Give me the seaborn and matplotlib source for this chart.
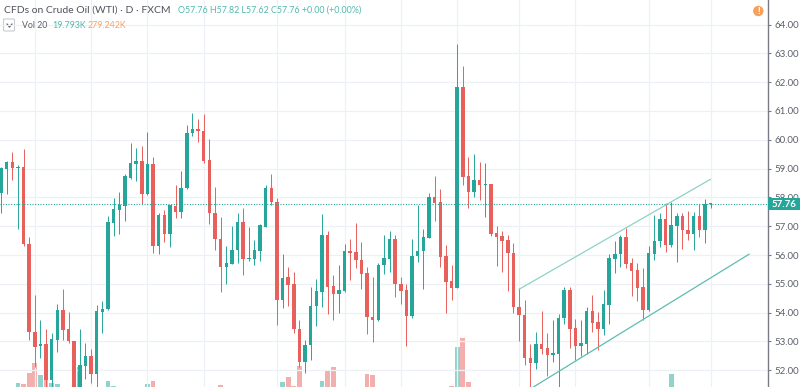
### IMPORTS
import pandas as pd
import seaborn as sns
import matplotlib
matplotlib.use("Agg")
import matplotlib.pyplot as plt
from matplotlib.patches import Rectangle, FancyBboxPatch, Circle

### DATA (daily candles)
opens = [58.16,59.00,59.23,59.02,59.05,56.39,53.34,52.83,52.90,51.66,
         53.06,54.08,53.42,53.03,51.20,52.16,52.49,51.87,54.03,54.11,
         57.12,57.56,57.71,58.69,59.16,59.27,58.13,59.16,56.31,57.38,
         56.74,57.70,57.49,58.31,60.23,60.38,60.32,59.30,57.47,56.57,
         55.59,55.70,56.16,57.14,55.85,55.86,56.15,56.98,58.32,57.85,
         54.44,55.22,54.98,53.43,52.27,52.87,54.23,54.71,56.69,54.91,
         54.64,54.75,56.14,56.10,55.82,55.36,53.86,53.74,55.65,55.86,
         56.57,54.99,54.77,53.88,55.95,56.13,56.59,58.01,57.83,55.96,
         55.09,54.86,61.83,58.73,58.18,58.60,58.43,58.47,56.75,56.65,
         56.52,56.06,54.21,53.93,52.43,52.26,52.91,52.76,52.54,52.58,
         53.81,54.78,53.45,52.85,52.91,54.06,53.66,53.42,54.27,55.87,
         56.03,56.62,55.71,55.48,54.89,54.08,56.05,56.48,57.24,56.35,
         57.01,57.36,56.88,56.73,57.34,56.86,57.76]
highs = [59.05,59.25,59.56,59.11,59.67,56.61,54.61,53.76,53.42,53.28,
         54.30,54.81,54.02,53.03,53.42,52.95,52.72,54.27,54.40,57.35,
         57.97,58.20,58.81,59.88,59.70,59.77,60.26,59.41,57.45,57.56,
         57.74,58.44,58.91,60.50,60.92,60.71,60.89,60.03,58.35,57.31,
         56.33,57.02,57.45,57.62,56.98,56.52,57.07,58.44,58.80,57.97,
         56.02,55.59,55.40,53.76,53.05,54.90,55.16,57.42,56.83,55.30,
         55.65,56.38,56.57,57.10,56.45,55.59,55.23,55.71,56.70,56.84,
         56.70,55.22,55.01,56.56,57.72,56.92,58.14,58.74,58.28,56.34,
         55.66,63.32,62.56,59.41,59.49,59.23,59.20,58.47,57.02,56.82,
         56.70,56.40,54.84,54.43,52.91,53.34,54.05,53.28,53.74,53.95,
         54.90,54.90,53.79,53.74,54.18,54.60,54.03,54.79,56.04,56.47,
         56.70,56.93,55.89,55.71,55.54,56.32,57.39,57.47,57.82,57.84,
         57.45,57.45,57.53,57.50,57.76,57.95,57.82]
lows = [57.47,58.12,58.60,56.89,56.32,53.05,52.12,52.41,51.40,51.40,
        52.64,53.05,52.93,51.00,51.00,51.68,51.54,51.40,53.28,54.09,
        56.66,56.73,57.19,58.63,58.58,57.76,58.08,56.08,56.03,56.45,
        56.29,57.28,57.28,58.30,60.14,59.93,59.18,57.07,56.19,54.71,
        54.99,55.69,55.71,55.32,55.80,55.66,55.80,56.96,57.75,53.58,
        54.15,54.23,53.28,52.12,51.91,52.35,53.53,54.20,53.95,53.74,
        54.00,54.73,55.13,55.54,54.83,53.24,52.97,53.70,55.34,55.41,
        54.55,54.30,52.84,53.83,55.74,54.82,56.58,57.19,55.59,54.00,
        54.43,54.84,58.43,57.64,58.00,57.91,57.33,56.67,55.62,55.42,
        54.75,53.97,53.02,52.17,51.40,52.04,52.58,51.81,52.29,51.40,
        53.62,52.76,52.35,52.49,52.58,53.34,52.70,53.23,53.61,55.39,
        55.58,55.54,54.58,54.42,53.75,54.06,55.81,56.29,56.12,56.27,
        55.74,56.22,56.52,56.18,56.62,56.43,57.62]
closes = [59.01,59.23,59.02,59.07,56.38,53.34,52.82,52.90,51.66,53.08,
          54.08,53.39,53.01,51.20,52.17,52.49,51.87,54.05,54.12,57.13,
          57.58,57.75,58.74,59.18,59.27,58.13,59.16,56.31,57.39,56.74,
          57.72,57.49,58.32,60.25,60.38,60.30,59.27,57.45,56.55,55.59,
          55.71,56.18,57.14,55.86,55.88,56.16,57.03,58.32,57.84,54.44,
          55.21,54.96,53.42,52.27,52.88,54.24,54.74,56.69,54.89,54.64,
          54.77,56.14,56.07,55.81,55.34,53.85,53.74,55.67,55.88,56.57,
          54.98,54.75,53.88,55.96,56.14,56.62,58.01,57.80,55.94,55.07,
          54.86,61.83,58.72,58.18,58.60,58.43,58.45,56.74,56.63,56.50,
          56.06,54.20,53.93,52.42,52.26,52.91,52.75,52.54,52.60,53.83,
          54.78,53.44,52.84,52.94,54.06,53.65,53.42,54.29,55.89,56.04,
          56.63,55.69,55.46,54.86,54.08,56.07,56.50,57.24,56.35,57.05,
          57.36,56.87,56.73,57.34,56.86,57.76,57.76]

# volume in thousands, most of the bars are cut off by the bottom of the chart
volumes = [100,100,100,170,160,270,370,250,250,170,
           160,100,100,100,330,100,100,100,100,190,
           140,100,100,100,100,100,160,190,100,100,
           100,100,100,100,100,100,100,100,100,150,
           100,100,100,100,100,100,100,100,100,100,
           180,230,140,340,100,100,100,190,290,330,
           100,100,100,100,100,260,250,100,100,100,
           100,100,100,100,100,100,100,100,100,100,
           140,530,620,180,100,100,100,100,100,100,
           100,100,100,100,100,100,100,100,100,100,
           100,100,100,100,100,100,100,100,100,100,
           100,100,100,100,100,100,100,100,100,260,
           100,100,100,100,100,100,100]

price_ticks = [52,53,54,55,56,57,58,59,60,61,62,63,64]
date_grid = [6,16,26,36,49,61,71,81,92,102,115,126]
last_price = 57.76

upper_x = [92,126]
upper_y = [54.81,58.63]
lower_x = [92,132.86]
lower_y = [51.11,56.03]

### COLOURS
UP = "#26a69a"
DOWN = "#e8605c"
GRID = "#edf1f6"
TEXT = "#5d606b"

### FIGURE
sns.set_style("white")
plt.rcParams["font.family"] = ["Lato", "DejaVu Sans"]

fig = plt.figure(figsize=(8, 3.87), dpi=100)
ax = fig.add_axes([0, 0, 768/800, 1])
ax_vol = ax.twinx()
ax_vol.set_zorder(1)
ax.set_zorder(2)
ax.patch.set_visible(False)

### VOLUME
df = pd.DataFrame({"day": range(len(volumes)), "vol": volumes,
                   "dir": ["up" if c >= o else "down" for o, c in zip(opens, closes)]})
sns.barplot(data=df, x="day", y="vol", hue="dir", palette={"up": UP, "down": DOWN},
            native_scale=True, dodge=False, width=0.85, alpha=0.5, linewidth=0,
            saturation=1, legend=False, ax=ax_vol)
ax_vol.set_ylim(130, 4000)
ax_vol.set_ylabel("")
ax_vol.set_xlabel("")
ax_vol.set_yticks([])
ax_vol.grid(False)

### CANDLES
for i in range(len(opens)):
    col = UP if closes[i] >= opens[i] else DOWN
    ax.vlines(i, lows[i], highs[i], color=col, lw=0.7, zorder=3)
    body = max(abs(closes[i] - opens[i]), 0.04)
    ax.bar(i, body, bottom=min(opens[i], closes[i]), width=0.62, color=col, lw=0, zorder=4)

### CHANNEL + LAST PRICE LINE
sns.lineplot(x=upper_x, y=upper_y, color="#8fd2c8", lw=0.9, ax=ax, zorder=5)
sns.lineplot(x=lower_x, y=lower_y, color="#5dbdb0", lw=0.9, ax=ax, zorder=5)
ax.axhline(last_price, color=UP, lw=0.8, ls=(0, (1, 1.4)), zorder=5)

### AXES
ax.set_xlim(-0.18, 136.2)
ax.set_ylim(51.417, 64.854)
ax.set_xticks(date_grid)
ax.set_xticklabels([])
ax.set_yticks(price_ticks)
ax.set_yticklabels([f"{p:.2f}" for p in price_ticks])
ax.yaxis.tick_right()
ax.tick_params(axis="x", length=0)
ax.tick_params(axis="y", length=2.5, width=0.8, color="#787b86", labelcolor=TEXT,
               labelsize=7, pad=2.5, right=True, left=False)
ax.grid(True, color=GRID, lw=0.9)
ax.set_axisbelow(True)
for side in ["top", "left", "bottom"]:
    ax.spines[side].set_visible(False)
    ax_vol.spines[side].set_visible(False)
ax_vol.spines["right"].set_visible(False)
ax.spines["right"].set_color("#787b86")
ax.spines["right"].set_linewidth(1.0)

# price tag on the axis
tr = ax.get_yaxis_transform()
ax.add_patch(Rectangle((1.0, last_price - 0.21), 0.042, 0.42, transform=tr,
                       color=UP, lw=0, clip_on=False, zorder=6))
ax.text(1.021, last_price - 0.01, "57.76", transform=tr, color="white", fontsize=7,
        fontweight="bold", ha="center", va="center", zorder=7, clip_on=False)

### HEADER TEXT
def fx(px):
    return px / 800

def fy(px):
    return 1 - px / 387

fig.text(fx(4), fy(10), "CFDs on Crude Oil (WTI) · D · FXCM", color="#50535e",
         fontsize=7.5, va="center")
fig.text(fx(178), fy(10), "O57.76 H57.82 L57.62 C57.76 +0.00 (+0.00%)", color="#53b9ae",
         fontsize=6.4, va="center")
fig.text(fx(22), fy(25), "Vol 20", color=TEXT, fontsize=6.3, va="center")
fig.text(fx(52), fy(25), "19.793K", color="#53b9ae", fontsize=6.4, va="center")
fig.text(fx(88), fy(25), "279.242K", color="#f6a26b", fontsize=6.4, va="center")

# collapse button
fig.add_artist(FancyBboxPatch((fx(3.5), fy(31)), 11/800, 12/387, transform=fig.transFigure,
                              boxstyle="round,pad=0,rounding_size=0.002", fc="white",
                              ec="#c9cbd1", lw=0.8))
fig.add_artist(plt.Line2D([fx(7), fx(9.5), fx(12)], [fy(24), fy(27), fy(24)],
                          color="#50535e", lw=0.9))

# alert badge
fig.add_artist(Circle((758.3, 387 - 11), 5.2, transform=None, fc="#f6a05a", ec="none"))
fig.text(fx(758.3), fy(11), "!", color="white", fontsize=7, fontweight="bold",
         ha="center", va="center")

fig.savefig("out.png", dpi=100)
